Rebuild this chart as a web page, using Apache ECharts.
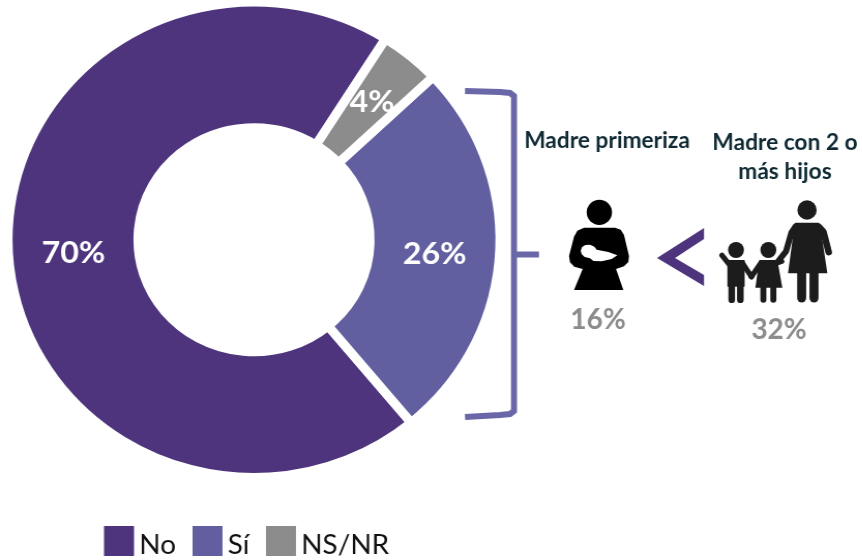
<!DOCTYPE html>
<html><head><meta charset="utf-8">
<style>html,body{margin:0;padding:0;background:#fff;overflow:hidden}#c{width:833px;height:560px;transform-origin:0 0;transform:scaleX(1.035)}</style>
<script src="https://cdn.jsdelivr.net/npm/echarts@6/dist/echarts.min.js"></script>
</head><body><div id="c"></div>
<script>
const categories = ['No', 'Sí', 'NS/NR'];
const values = [70, 26, 4];
const colors = ['#4D347C', '#615F9F', '#8C8C8C'];
const motherLabel = 'Madre primeriza';
const familyLabel = ['Madre con 2 o', 'más hijos'];
const motherValue = '16%';
const familyValue = '32%';
const FONT = 'Lato';
const SX = 1.035; // the reference is slightly wider than tall

const chart = echarts.init(document.getElementById('c'), null, {renderer: 'canvas'});
const limb = (pts, w, col) => ({type: 'polyline', shape: {points: pts}, style: {stroke: col, lineWidth: w, lineCap: 'round', lineJoin: 'round', fill: null}});
const poly = (pts, col) => ({type: 'polygon', shape: {points: pts}, style: {fill: col}});
const disc = (cx, cy, r, col) => ({type: 'circle', shape: {cx, cy, r}, style: {fill: col}});
const txt = (x, y, t, size, col) => ({type: 'text', x, y, style: {text: t, fontFamily: FONT, fontWeight: 'bold', fontSize: size, fill: col, align: 'center', verticalAlign: 'middle'}});
const K = '#1C1C1C';
const BR = '#6A67A8';
const labelDx = [3, -3, 1];
const labelDy = [2, 3, 0];

chart.setOption({
  animation: false,
  backgroundColor: '#fff',
  legend: {
    data: categories, left: 104 / SX, top: 526, orient: 'horizontal', padding: 0,
    itemWidth: 30 / SX, itemHeight: 30, itemGap: 16, icon: 'rect',
    itemStyle: {borderWidth: 0},
    formatter: '{t|{name}}',
    textStyle: {fontFamily: FONT, fontSize: 27, color: '#111',
      rich: {t: {fontFamily: FONT, fontSize: 27, color: '#111', padding: [9, 0, 0, 0]}}}
  },
  series: [{
    type: 'pie', center: [254 / SX, 239.75], radius: [112, 237.75],
    startAngle: 57.7, clockwise: false, silent: true,
    itemStyle: {borderColor: '#fff', borderWidth: 9},
    label: {show: true, position: 'inside', formatter: '{c}%', fontFamily: FONT, fontWeight: 'bold', fontSize: 31, color: '#fff'},
    labelLine: {show: false},
    labelLayout: p => ({dx: labelDx[p.dataIndex], dy: labelDy[p.dataIndex]}),
    data: categories.map((n, i) => ({name: n, value: values[i], itemStyle: {color: colors[i]}}))
  }],
  graphic: {elements: [{type: 'group', x: 0, y: 0, scaleX: 1 / SX, scaleY: 1, children: [
    {type: 'polyline', shape: {points: [[465, 91], [500, 92], [510, 93], [514, 96], [514, 411], [510, 414], [500, 415], [465, 417]]},
     style: {stroke: BR, lineWidth: 6, fill: null}},
    {type: 'line', shape: {x1: 514, y1: 254.5, x2: 539, y2: 254.5}, style: {stroke: BR, lineWidth: 6}},
    poly([[704, 228], [704, 239], [675, 258], [704, 275], [704, 286], [657, 258]], '#4D347C'),
    txt(607, 141, motherLabel, 22.7, '#0F2A33'),
    txt(785, 143, familyLabel[0], 22.7, '#0F2A33'),
    txt(785, 172, familyLabel[1], 22.7, '#0F2A33'),
    txt(598, 320, motherValue, 28, '#8C8C8C'),
    txt(779, 330, familyValue, 28, '#8C8C8C'),
    {type: 'group', x: 560, y: 190, scaleX: 1/3, scaleY: 1/3, children: [
      disc(118, 67, 38, '#000'),
      poly([[72,113],[165,113],[182,119],[192,135],[207,198],[205,216],[192,229],[168,237],[190,300],[42,300],[68,237],[43,230],[30,217],[27,198],[42,140],[52,122]], '#000'),
      poly([[62,182],[66,171],[76,165],[90,164],[103,170],[110,179],[145,186],[172,196],[155,207],[125,214],[100,213],[90,205],[74,201],[65,193]], '#fff')
    ]},
    {type: 'group', x: 710, y: 190, scaleX: 1/3, scaleY: 1/3, children: [
      disc(291, 60, 29, K),
      poly([[256,98],[326,98],[334,115],[334,130],[352,250],[234,250],[250,130],[248,112]], K),
      limb([[326, 110], [340, 125], [356, 186]], 20, K),
      limb([[256, 110], [244, 128], [228, 184], [205, 213]], 18, K),
      limb([[275, 250], [275, 324]], 27, K),
      limb([[312, 250], [312, 324]], 27, K),
      disc(175, 180, 24, K),
      poly([[148, 210], [202, 210], [217, 293], [136, 293]], K),
      limb([[160, 290], [160, 329]], 18, K),
      limb([[190, 290], [190, 329]], 18, K),
      limb([[198, 220], [215, 214]], 16, K),
      limb([[152, 220], [124, 260]], 16, K),
      disc(78, 180, 24, K),
      poly([[52, 210], [104, 210], [104, 290], [52, 290]], K),
      limb([[65, 285], [65, 329]], 20, K),
      limb([[91, 285], [91, 329]], 20, K),
      limb([[60, 226], [36, 196]], 16, K),
      limb([[98, 220], [124, 260]], 16, K)
    ]}
  ]}]}
});
</script></body></html>
